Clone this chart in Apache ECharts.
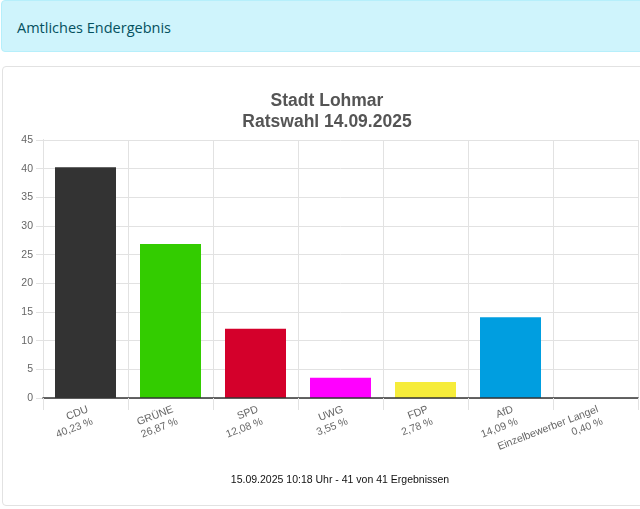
<!DOCTYPE html>
<html>
<head>
<meta charset="utf-8">
<script src="https://cdn.jsdelivr.net/npm/echarts@6/dist/echarts.min.js"></script>
<style>
html,body{margin:0;padding:0;width:640px;height:509px;overflow:hidden;background:#fff;}
#banner{position:absolute;left:1px;top:0px;width:660px;height:52px;background:#cff4fc;border:1px solid #b6effb;border-radius:4px;box-sizing:border-box;}
#banner span{position:absolute;left:15px;top:17px;font-family:"Open Sans","Noto Sans",sans-serif;font-size:14.5px;color:#055160;}
#card{position:absolute;left:2px;top:66px;width:660px;height:440px;border:1px solid #e2e2e2;border-radius:4px;box-sizing:border-box;background:#fff;}
#chart{position:absolute;left:0;top:0;width:640px;height:509px;}
</style>
</head>
<body>
<div id="banner"><span>Amtliches Endergebnis</span></div>
<div id="card"></div>
<div id="chart"></div>
<script>
const categories = ["CDU", "GRÜNE", "SPD", "UWG", "FDP", "AfD", "Einzelbewerber Langel"];
const values = [40.23, 26.87, 12.08, 3.55, 2.78, 14.09, 0.40];
const barColors = ["#333333", "#33cc00", "#d4002b", "#ff00ff", "#f6ec3a", "#009ee0", "#ffffff"];
const yTicks = [0, 5, 10, 15, 20, 25, 30, 35, 40, 45];
const titleLines = ["Stadt Lohmar", "Ratswahl 14.09.2025"];
const footnote = "15.09.2025 10:18 Uhr - 41 von 41 Ergebnissen";

const pctLabels = values.map(v => v.toFixed(2).replace('.', ',') + ' %');
const FONT = '"Liberation Sans", Arial, sans-serif';

const chart = echarts.init(document.getElementById('chart'));
chart.setOption({
  backgroundColor: 'transparent',
  animation: false,
  title: [
    {
      text: titleLines.join('\n'),
      left: 322, top: 86, textAlign: 'center',
      textStyle: {fontFamily: FONT, fontSize: 17.5, fontWeight: 'bold', color: '#555555', lineHeight: 21}
    },
    {
      text: footnote,
      left: 335, top: 470, textAlign: 'center',
      textStyle: {fontFamily: FONT, fontSize: 10.5, fontWeight: 'normal', color: '#111111'}
    }
  ],
  grid: {left: 43, right: 2, top: 140, bottom: 111, containLabel: false},
  xAxis: {
    type: 'category',
    data: categories,
    boundaryGap: true,
    z: 3,
    axisLine: {show: true, lineStyle: {color: '#333333', width: 1.5}},
    axisTick: {show: true, length: 12, lineStyle: {color: '#e2e2e2'}},
    splitLine: {show: true, lineStyle: {color: '#e2e2e2'}},
    axisLabel: {
      rotate: 21, margin: 5, interval: 0,
      align: 'right', verticalAlign: 'top',
      fontFamily: FONT, fontSize: 10.5, color: '#666666', lineHeight: 13,
      formatter: (name, idx) => name + '\n' + pctLabels[idx]
    }
  },
  yAxis: {
    type: 'value',
    min: yTicks[0], max: yTicks[yTicks.length - 1], interval: yTicks[1] - yTicks[0],
    axisLine: {show: true, lineStyle: {color: '#bbbbbb'}},
    axisTick: {show: true, length: 7, lineStyle: {color: '#e2e2e2'}},
    splitLine: {show: true, lineStyle: {color: '#e2e2e2'}},
    axisLabel: {margin: 10, fontFamily: FONT, fontSize: 10.5, color: '#666666'}
  },
  series: [{
    type: 'bar',
    data: values.map((v, i) => ({value: v, itemStyle: {color: barColors[i]}})),
    barWidth: 61,
    itemStyle: {borderWidth: 0}
  }]
});
</script>
</body>
</html>
